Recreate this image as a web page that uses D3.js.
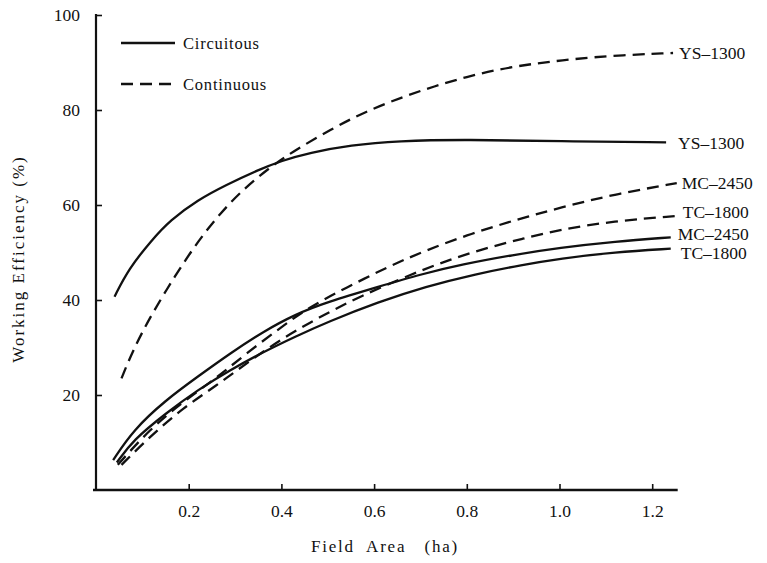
<!DOCTYPE html>
<html>
<head>
<meta charset="utf-8">
<script src="https://cdn.jsdelivr.net/npm/d3@7"></script>
<style>
  body { margin: 0; background: #fff; }
  svg { display: block; }
  svg text { font-family: "Liberation Serif", "Times New Roman", "DejaVu Serif", serif; }
</style>
</head>
<body>
<svg id="chart" width="767" height="563"></svg>
<script>
// ---- data ----
const xTicks = [0.2, 0.4, 0.6, 0.8, 1.0, 1.2];
const yTicks = [20, 40, 60, 80, 100];

const ysCircX = [0.04, 0.07, 0.12, 0.16, 0.22, 0.28, 0.35, 0.40, 0.46, 0.55, 0.65, 0.80, 1.00, 1.23];
const ysCircY = [40.7, 46.5, 52.6, 56.8, 61.1, 64.2, 67.4, 69.3, 71.0, 72.6, 73.5, 73.8, 73.4, 73.2];

const ysContX = [0.055, 0.08, 0.12, 0.17, 0.22, 0.27, 0.32, 0.37, 0.42, 0.51, 0.58, 0.66, 0.73, 0.80, 0.87, 0.94, 1.00, 1.10, 1.245];
const ysContY = [23.5, 29.5, 37.0, 45.0, 52.4, 58.5, 63.5, 67.5, 71.0, 76.1, 79.6, 82.7, 85.0, 87.0, 88.6, 89.7, 90.4, 91.4, 92.0];

const mcCircX = [0.037, 0.08, 0.15, 0.22, 0.29, 0.36, 0.43, 0.50, 0.61, 0.70, 0.79, 0.90, 1.00, 1.12, 1.24];
const mcCircY = [6.3, 12.6, 18.9, 23.9, 28.8, 33.3, 37.0, 39.6, 42.8, 45.4, 47.5, 49.5, 51.0, 52.3, 53.2];

const tcCircX = [0.045, 0.08, 0.15, 0.22, 0.29, 0.36, 0.43, 0.50, 0.61, 0.71, 0.82, 0.92, 1.00, 1.12, 1.24];
const tcCircY = [5.8, 10.5, 16.1, 21.1, 25.3, 29.0, 32.3, 35.4, 39.6, 42.8, 45.5, 47.4, 48.7, 50.1, 50.8];

const mcContX = [0.047, 0.116, 0.188, 0.26, 0.325, 0.40, 0.46, 0.54, 0.63, 0.71, 0.81, 0.91, 1.00, 1.12, 1.253];
const mcContY = [5.3, 12.8, 18.6, 23.6, 28.8, 34.3, 38.5, 42.6, 47.0, 50.4, 54.0, 57.0, 59.4, 62.3, 64.6];

const tcContX = [0.055, 0.116, 0.188, 0.26, 0.325, 0.40, 0.48, 0.57, 0.685, 0.76, 0.84, 0.92, 1.00, 1.116, 1.253];
const tcContY = [5.3, 11.2, 17.3, 22.0, 26.7, 31.8, 36.3, 40.8, 45.6, 48.4, 50.9, 52.9, 54.8, 56.6, 57.7];

const seriesNames = ["YS\u20131300", "YS\u20131300", "MC\u20132450", "TC\u20131800", "MC\u20132450", "TC\u20131800"];
const seriesKinds = ["Continuous", "Circuitous", "Continuous", "Continuous", "Circuitous", "Circuitous"];
const legendLabels = ["Circuitous", "Continuous"];

// ---- drawing ----
const svg = d3.select("#chart");
const x = d3.scaleLinear().domain([0, 1.2]).range([96, 652.2]);
const y = d3.scaleLinear().domain([0, 100]).range([490, 15]);

const series = [
  {xs: ysContX, ys: ysContY},
  {xs: ysCircX, ys: ysCircY},
  {xs: mcContX, ys: mcContY},
  {xs: tcContX, ys: tcContY},
  {xs: mcCircX, ys: mcCircY},
  {xs: tcCircX, ys: tcCircY}
].map((s, i) => ({name: seriesNames[i], kind: seriesKinds[i], pts: s.xs.map((v, j) => [v, s.ys[j]])}));

const dash = "12,7";

// axes
const yAxis = d3.axisLeft(y).tickValues(yTicks).tickSizeInner(-6).tickSizeOuter(0).tickPadding(16).tickFormat(d3.format("d"));
const gy = svg.append("g").attr("transform", `translate(${x(0)},0)`).call(yAxis);
gy.attr("font-family", null).attr("font-size", 17.5);
gy.select(".domain").remove();
gy.selectAll(".tick line").attr("stroke", "#111").attr("stroke-width", 1.6);
gy.selectAll(".tick text").attr("fill", "#111");

const xAxis = d3.axisBottom(x).tickValues(xTicks).tickSizeInner(-6).tickSizeOuter(0).tickPadding(15).tickFormat(d3.format(".1f"));
const gx = svg.append("g").attr("transform", `translate(0,${y(0)})`).call(xAxis);
gx.attr("font-family", null).attr("font-size", 17.5);
gx.select(".domain").remove();
gx.selectAll(".tick line").attr("stroke", "#111").attr("stroke-width", 1.6);
gx.selectAll(".tick text").attr("fill", "#111");

// axis lines
svg.append("line").attr("x1", x(0)).attr("x2", x(0)).attr("y1", y(100) - 1).attr("y2", y(0) + 1)
  .attr("stroke", "#111").attr("stroke-width", 2.2);
svg.append("line").attr("x1", x(0) - 3).attr("x2", x(1.255)).attr("y1", y(0)).attr("y2", y(0))
  .attr("stroke", "#111").attr("stroke-width", 2.4);

// curves
const line = d3.line().x(d => x(d[0])).y(d => y(d[1])).curve(d3.curveBasis);
svg.append("g").selectAll("path").data(series).join("path")
  .attr("d", d => line(d.pts))
  .attr("fill", "none")
  .attr("stroke", "#111")
  .attr("stroke-width", 2.3)
  .attr("stroke-dasharray", d => d.kind === "Continuous" ? dash : null);

// end labels
const nudge = [0, 1, 0, -4, -3, 4];
const lx = [6, 12, 5, 6, 7, 10];
svg.append("g").attr("font-size", 17.5).attr("fill", "#111")
  .selectAll("text").data(series).join("text")
  .attr("x", (d, i) => x(d.pts[d.pts.length - 1][0]) + lx[i])
  .attr("y", (d, i) => y(d.pts[d.pts.length - 1][1]) + nudge[i])
  .attr("dy", "0.35em")
  .text(d => d.name);

// legend
const lg = svg.append("g").attr("font-size", 16.5).attr("fill", "#111");
legendLabels.forEach((lab, i) => {
  const ly = 43 + i * 41;
  lg.append("line").attr("x1", 121).attr("x2", 175).attr("y1", ly).attr("y2", ly)
    .attr("stroke", "#111").attr("stroke-width", 2.3)
    .attr("stroke-dasharray", lab === "Continuous" ? "12,7" : null);
  lg.append("text").attr("x", 183).attr("y", ly).attr("dy", "0.35em")
    .attr("letter-spacing", 0.8).text(lab);
});

// axis titles
svg.append("text").attr("x", 385).attr("y", 552).attr("text-anchor", "middle")
  .attr("font-size", 17).attr("letter-spacing", 1.8).attr("fill", "#111")
  .style("white-space", "pre")
  .text("Field  Area   (ha)");

svg.append("text").attr("transform", "translate(18,259) rotate(-90)").attr("text-anchor", "middle")
  .attr("dy", "0.35em")
  .attr("font-size", 17).attr("letter-spacing", 2).attr("fill", "#111")
  .text("Working Efficiency (%)");
</script>
</body>
</html>
